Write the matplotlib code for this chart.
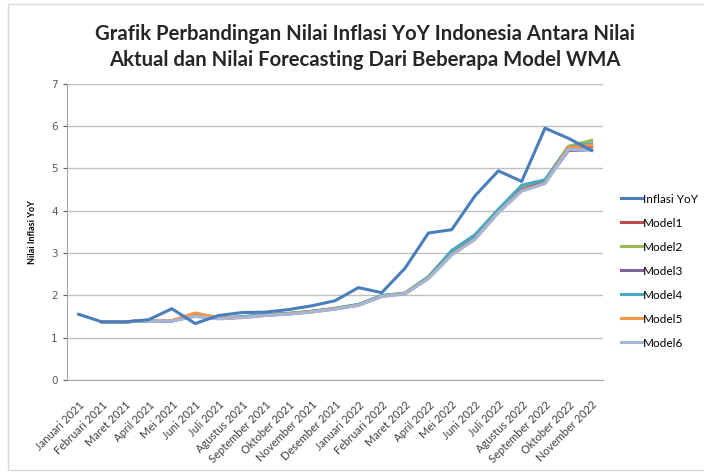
import matplotlib
matplotlib.use("Agg")
import matplotlib.pyplot as plt
from matplotlib.patches import Rectangle

# bulan Januari 2021 - November 2022
bulan = ["Januari 2021", "Februari 2021", "Maret 2021", "April 2021", "Mei 2021",
         "Juni 2021", "Juli 2021", "Agustus 2021", "September 2021", "Oktober 2021",
         "November 2021", "Desember 2021", "Januari 2022", "Februari 2022",
         "Maret 2022", "April 2022", "Mei 2022", "Juni 2022", "Juli 2022",
         "Agustus 2022", "September 2022", "Oktober 2022", "November 2022"]

# nilai aktual inflasi YoY
inflasi = [1.55, 1.37, 1.37, 1.42, 1.68, 1.33, 1.52, 1.59, 1.60, 1.66, 1.75, 1.87,
           2.18, 2.06, 2.64, 3.47, 3.55, 4.35, 4.94, 4.69, 5.95, 5.71, 5.42]

# nilai forecasting (mulai Februari 2021)
model1 = [None, 1.37, 1.37, 1.40, 1.39, 1.52, 1.45, 1.48, 1.53, 1.56, 1.61, 1.68,
          1.77, 1.98, 2.04, 2.42, 2.98, 3.36, 3.98, 4.50, 4.68, 5.47, 5.52]
model2 = [None, 1.37, 1.37, 1.40, 1.40, 1.50, 1.46, 1.49, 1.54, 1.57, 1.62, 1.69,
          1.78, 1.99, 2.05, 2.44, 3.04, 3.42, 4.02, 4.58, 4.72, 5.52, 5.66]
model3 = [None, 1.37, 1.37, 1.40, 1.39, 1.53, 1.45, 1.48, 1.53, 1.56, 1.61, 1.68,
          1.77, 1.98, 2.04, 2.41, 2.97, 3.35, 3.97, 4.49, 4.67, 5.42, 5.44]
model4 = [None, 1.37, 1.37, 1.40, 1.40, 1.51, 1.46, 1.49, 1.54, 1.57, 1.62, 1.69,
          1.78, 1.99, 2.05, 2.43, 3.06, 3.43, 4.03, 4.60, 4.73, 5.50, 5.58]
model5 = [None, 1.37, 1.37, 1.41, 1.40, 1.58, 1.47, 1.47, 1.52, 1.56, 1.61, 1.68,
          1.76, 1.97, 2.04, 2.40, 2.96, 3.33, 3.96, 4.47, 4.65, 5.49, 5.55]
model6 = [None, 1.37, 1.37, 1.40, 1.39, 1.50, 1.44, 1.47, 1.52, 1.55, 1.60, 1.67,
          1.76, 1.97, 2.03, 2.39, 2.95, 3.32, 3.95, 4.46, 4.64, 5.44, 5.45]

seri = [("Inflasi YoY", inflasi, "#4A7EBB"),
        ("Model1", model1, "#BE4B48"),
        ("Model2", model2, "#98B954"),
        ("Model3", model3, "#7D60A0"),
        ("Model4", model4, "#46AAC5"),
        ("Model5", model5, "#F69545"),
        ("Model6", model6, "#A5B6D8")]

fig = plt.figure(figsize=(7.04, 4.73), dpi=100)
ax = fig.add_axes([0.095, 0.197, 0.762, 0.626])

# border chart area
fig.patches.append(Rectangle((8 / 704, 3 / 473), 0.995, 0.985, transform=fig.transFigure,
                             fill=False, edgecolor="#D9D9D9", linewidth=1.0))

x = list(range(len(bulan)))
# urutan gambar: model dulu, aktual di atas
for nama, nilai, warna in seri[1:]:
    xs = [i for i, v in zip(x, nilai) if v is not None]
    ys = [v for v in nilai if v is not None]
    ax.plot(xs, ys, color=warna, linewidth=2.2, label=nama, zorder=2)
ax.plot(x, inflasi, color=seri[0][2], linewidth=2.2, label=seri[0][0], zorder=3)

ax.set_xlim(-0.5, len(bulan) - 0.5)
ax.set_ylim(0, 7)
ax.set_yticks(range(0, 8))
ax.set_xticks(x)
ax.set_xticklabels(bulan, rotation=45, ha="right", rotation_mode="anchor",
                   fontsize=8, color="#404040", family="Lato")
ax.tick_params(axis="y", labelsize=7.5, colors="#595959", length=3, width=0.8)
ax.tick_params(axis="x", length=0, pad=14)
ax.grid(axis="y", color="#BFBFBF", linewidth=1)
ax.set_axisbelow(True)
for s in ["top", "right"]:
    ax.spines[s].set_visible(False)
ax.spines["left"].set_color("#A6A6A6")
ax.spines["bottom"].set_color("#A6A6A6")

ax.set_ylabel("Nilai Inflasi YoY", fontsize=6.5, fontweight="bold", family="Lato",
              labelpad=10)

fig.text(0.518, 0.9, "Grafik Perbandingan Nilai Inflasi YoY Indonesia Antara Nilai\n"
         "Aktual dan Nilai Forecasting Dari Beberapa Model WMA",
         ha="center", va="center", fontsize=14.6, fontweight="bold", family="Lato",
         color="#262626", linespacing=1.35)

h, l = ax.get_legend_handles_labels()
urut = [6, 0, 1, 2, 3, 4, 5]
ax.legend([h[i] for i in urut], [l[i] for i in urut], loc="upper left",
          bbox_to_anchor=(610 / 704, 1 - 183 / 473), bbox_transform=fig.transFigure,
          frameon=False, handlelength=1.8, handletextpad=0.1,
          labelspacing=1.1, prop={"family": "Lato", "size": 8.5})

plt.savefig("out.png", dpi=100)
